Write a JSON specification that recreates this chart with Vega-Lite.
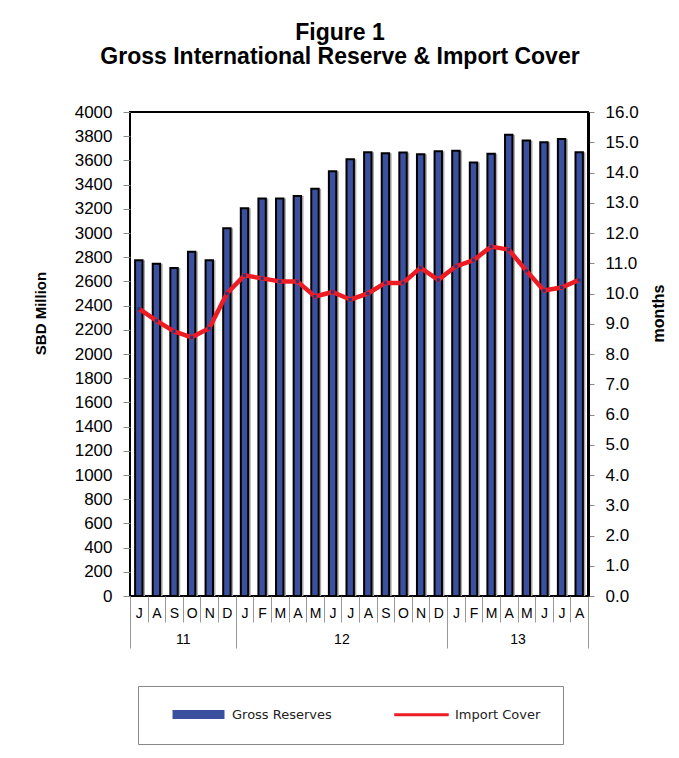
{
  "$schema": "https://vega.github.io/schema/vega-lite/v6.json",
  "width": 458,
  "height": 484,
  "autosize": {"type": "none"},
  "padding": {"left": 130, "top": 112, "right": 91, "bottom": 162},
  "background": "white",
  "config": {
    "view": {"stroke": "black", "strokeWidth": 2},
    "font": "Liberation Sans"
  },
  "title": {
    "text": ["Figure 1", "Gross International Reserve & Import Cover"],
    "font": "Liberation Sans",
    "fontSize": 23,
    "fontWeight": "bold",
    "color": "black",
    "lineHeight": 24,
    "anchor": "middle",
    "dx": -19,
    "offset": 34
  },
  "data": {
    "values": [
      {"m": "2011-07", "res": 2775, "cov": 9.5},
      {"m": "2011-08", "res": 2745, "cov": 9.1},
      {"m": "2011-09", "res": 2710, "cov": 8.75},
      {"m": "2011-10", "res": 2845, "cov": 8.55},
      {"m": "2011-11", "res": 2775, "cov": 8.85},
      {"m": "2011-12", "res": 3040, "cov": 10.0},
      {"m": "2012-01", "res": 3205, "cov": 10.6},
      {"m": "2012-02", "res": 3285, "cov": 10.5},
      {"m": "2012-03", "res": 3285, "cov": 10.4},
      {"m": "2012-04", "res": 3305, "cov": 10.4},
      {"m": "2012-05", "res": 3365, "cov": 9.9},
      {"m": "2012-06", "res": 3510, "cov": 10.05},
      {"m": "2012-07", "res": 3610, "cov": 9.8},
      {"m": "2012-08", "res": 3668, "cov": 10.0},
      {"m": "2012-09", "res": 3660, "cov": 10.35},
      {"m": "2012-10", "res": 3665, "cov": 10.35},
      {"m": "2012-11", "res": 3650, "cov": 10.85},
      {"m": "2012-12", "res": 3675, "cov": 10.45},
      {"m": "2013-01", "res": 3680, "cov": 10.9},
      {"m": "2013-02", "res": 3582, "cov": 11.1},
      {"m": "2013-03", "res": 3655, "cov": 11.55},
      {"m": "2013-04", "res": 3813, "cov": 11.45},
      {"m": "2013-05", "res": 3765, "cov": 10.75},
      {"m": "2013-06", "res": 3750, "cov": 10.1},
      {"m": "2013-07", "res": 3776, "cov": 10.2},
      {"m": "2013-08", "res": 3668, "cov": 10.45}
    ]
  },
  "layer": [
    {
      "encoding": {
        "x": {
          "field": "m",
          "type": "ordinal",
          "sort": null,
          "scale": {"paddingInner": 0, "paddingOuter": 0},
          "axis": {
            "title": null,
            "domain": false,
            "tickBand": "extent",
            "tickSize": 26,
            "tickColor": "#999999",
            "tickWidth": 1,
            "labelAngle": 0,
            "labelFont": "Liberation Sans",
            "labelFontSize": 14,
            "labelColor": "black",
            "labelPadding": -16,
            "labelBaseline": "top",
            "labelExpr": "datum.value ? ['J','F','M','A','M','J','J','A','S','O','N','D'][toNumber(substring(datum.value,5,7))-1] : ''"
          }
        },
        "y": {
          "field": "res",
          "type": "quantitative",
          "scale": {"domain": [0, 4000], "nice": false},
          "axis": {
            "title": "SBD Million",
            "titleFont": "Liberation Sans",
            "titleFontSize": 15,
            "titleFontWeight": "bold",
            "titleColor": "black",
            "titleAngle": -90,
            "titleBaseline": "middle",
            "titleX": -90,
            "titleY": 201,
            "tickCount": 20,
            "format": "d",
            "grid": false,
            "domain": false,
            "tickSize": 7,
            "tickColor": "#888888",
            "labelPadding": 11,
            "labelFont": "Liberation Sans",
            "labelFontSize": 17,
            "labelColor": "black"
          }
        }
      },
      "layer": [
        {
          "mark": {"type": "bar", "color": "#aaaaaa", "xOffset": 2.5, "strokeWidth": 0, "width": {"band": 0.42}}
        },
        {
          "mark": {"type": "bar", "stroke": "black", "strokeWidth": 2, "width": {"band": 0.42}},
          "encoding": {
            "color": {
              "datum": "Gross Reserves",
              "scale": {"domain": ["Gross Reserves", "Import Cover"], "range": ["#3c50a0", "#ed1c24"]},
              "legend": {
                "orient": "none",
                "legendX": 8,
                "legendY": 574,
                "direction": "horizontal",
                "title": null,
                "padding": 22,
                "strokeColor": "#888888",
                "symbolOffset": 32,
                "symbolSize": 100,
                "symbolType": {"expr": "datum.value === 'Gross Reserves' ? 'M-5,-0.7H5V0.7H-5Z' : 'M-5.4,-0.25H5.4V0.25H-5.4Z'"},
                "symbolStrokeColor": {"expr": "datum.value === 'Gross Reserves' ? 'black' : '#ed1c24'"},
                "symbolStrokeWidth": {"expr": "datum.value === 'Gross Reserves' ? 2 : 0.5"},
                "symbolOpacity": 1,
                "labelOffset": 27,
                "columnPadding": 51,
                "labelFont": "DejaVu Sans",
                "labelFontSize": 13,
                "labelColor": "#222222"
              }
            }
          }
        }
      ]
    },
    {
      "encoding": {
        "x": {
          "field": "m",
          "type": "ordinal",
          "sort": null,
          "scale": {"paddingInner": 0, "paddingOuter": 0},
          "axis": {
            "orient": "bottom",
            "title": null,
            "domain": false,
            "tickBand": "extent",
            "tickSize": 52,
            "tickColor": "#999999",
            "tickWidth": 1,
            "tickOpacity": {"condition": {"test": "datum.value === '2011-12' || datum.value === '2012-12' || datum.value === '2013-08' || !datum.value", "value": 1}, "value": 0},
            "labelAngle": 0,
            "labelFont": "Liberation Sans",
            "labelFontSize": 14,
            "labelColor": "black",
            "labelPadding": -16,
            "labelBaseline": "top",
            "labelOffset": -8.8,
            "labelExpr": "datum.value === '2011-10' ? '11' : datum.value === '2012-07' ? '12' : datum.value === '2013-05' ? '13' : ''"
          }
        },
        "y": {
          "field": "cov",
          "type": "quantitative",
          "scale": {"domain": [0, 16], "nice": false},
          "axis": {
            "orient": "right",
            "title": "months",
            "titleFont": "Liberation Sans",
            "titleFontSize": 16,
            "titleFontWeight": "bold",
            "titleColor": "black",
            "titleAngle": -90,
            "titleBaseline": "middle",
            "titleX": 70,
            "titleY": 201,
            "tickCount": 16,
            "format": ".1f",
            "grid": false,
            "domain": true,
            "domainColor": "black",
            "domainWidth": 3,
            "tickSize": 6,
            "tickColor": "#888888",
            "labelPadding": 11,
            "labelFont": "Liberation Sans",
            "labelFontSize": 17,
            "labelColor": "black"
          }
        }
      },
      "layer": [
        {
          "mark": {"type": "line", "strokeWidth": 4.5, "strokeJoin": "round"},
          "encoding": {"color": {"datum": "Import Cover"}}
        },
        {
          "mark": {"type": "point", "shape": "square", "size": 10, "filled": true, "color": "#2a3580", "opacity": 1}
        }
      ]
    }
  ],
  "resolve": {
    "scale": {"y": "independent"},
    "axis": {"x": "independent", "y": "independent"}
  }
}
